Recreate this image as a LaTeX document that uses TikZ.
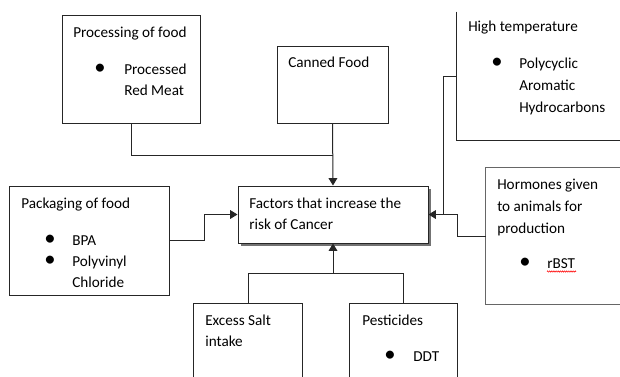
\documentclass[tikz,border=0pt]{standalone}
\usepackage{fontspec}
\setmainfont{Carlito}
\usetikzlibrary{arrows.meta,fit,shadows,decorations.pathmorphing}
\tikzset{
  boxnode/.style={draw=black!85, line width=0.75pt, inner sep=0pt},
  openbox/.style={draw=none, inner sep=0pt},
  txt/.style={anchor=base west, inner sep=0pt, text=black, font=\fontsize{11.4}{14}\selectfont},
  bul/.style={anchor=base, inner sep=0pt, text=black, font=\fontsize{17}{17}\selectfont},
  conn/.style={draw=black!85, line width=0.75pt},
  arr/.style={conn, -{Triangle[length=5.5pt,width=6.5pt]}},
  side/.style={draw=black!85, line width=0.75pt}
}
\begin{document}
\begin{tikzpicture}[x=0.75pt,y=-0.75pt]
\useasboundingbox (0,0) rectangle (620,376);
\fill[white] (0,0) rectangle (620,376);
\begin{scope}
\clip (0,0) rectangle (620,376);
% boxes
\node[boxnode, fit={(62,15) (200,123)}] (proc) {};
\node[boxnode, fit={(277,46) (388,123)}] (can) {};
\node[openbox, fit={(457,12) (640,140)}] (ht) {};
\node[openbox, fit={(486,168) (640,304)}] (horm) {};
\node[boxnode, fill=white, drop shadow={shadow xshift=2.2pt, shadow yshift=-2.2pt, fill=black!55, opacity=1}, fit={(238,186) (428,243)}] (cen) {};
\node[boxnode, fit={(9,186) (169,295)}] (pack) {};
\node[openbox, fit={(194,304) (302,400)}] (salt) {};
\node[openbox, fit={(350,304) (457,400)}] (pest) {};
% visible sides of cut-off boxes
\draw[side] (ht.north west) -- (ht.south west) -- (ht.south east);
\draw[side, draw=black!60, line width=1.1pt] (horm.north east) -- (horm.north west) -- (horm.south west) -- (horm.south east);
\draw[side] (salt.south west) -- (salt.north west) -- (salt.north east) -- (salt.south east);
\draw[side] (pest.south west) -- (pest.north west) -- (pest.north east) -- (pest.south east);
% junctions
\coordinate (j1) at (can.south |- 0,155);
\coordinate (j2) at (204,0);
\coordinate (j3) at (443,0);
\coordinate (j4) at (cen.south |- 0,273);
\coordinate (j5) at (457,0);
% connectors
\draw[conn] (proc.south) |- (j1);
\draw[arr] (can.south) -- (cen.north);
\draw[arr] (pack.east) -- (pack.east -| j2) |- (cen.west);
\draw[arr] (ht.west) -- (ht.west -| j3) |- (cen.east);
\draw[conn] (horm.west) -- (horm.west -| j5) |- (cen.east -| j3);
\draw[conn] (salt.north) |- (j4);
\draw[conn] (pest.north) |- (j4);
\draw[arr] (j4) -- (cen.south);
% texts
\node[txt] (t1) at (73,37) {Processing of food};
\node[bul] (b1) at (100,74) {•};
\node[txt] (t2) at (124,74) {Processed};
\node[txt] (t3) at (124,95) {Red Meat};
\node[txt] (t4) at (288,67) {Canned Food};
\node[txt] (t5) at (468,31) {High temperature};
\node[bul] (b2) at (497,68) {•};
\node[txt] (t6) at (519,68) {Polycyclic};
\node[txt] (t7) at (519,90) {Aromatic};
\node[txt] (t8) at (519,112) {Hydrocarbons};
\node[txt] (t9) at (249,208) {Factors that increase the};
\node[txt] (t10) at (249,229) {risk of Cancer};
\node[txt] (t11) at (21,208) {Packaging of food};
\node[bul] (b3) at (50,245) {•};
\node[txt] (t12) at (72,245) {BPA};
\node[bul] (b4) at (50,266) {•};
\node[txt] (t13) at (72,266) {Polyvinyl};
\node[txt] (t14) at (72,287) {Chloride};
\node[txt] (t15) at (497,189) {Hormones given};
\node[txt] (t16) at (497,211) {to animals for};
\node[txt] (t17) at (497,233) {production};
\node[bul] (b5) at (525,268) {•};
\node[txt] (t18) at (547,268) {rBST};
\draw[red, line width=0.4pt, decorate, decoration={zigzag, amplitude=0.5pt, segment length=1.6pt}] (t18.base west) ++(0,3.5) -- ++(29,0);
\node[txt] (t19) at (205,325) {Excess Salt};
\node[txt] (t20) at (205,346) {intake};
\node[txt] (t21) at (362,325) {Pesticides};
\node[bul] (b6) at (390,361) {•};
\node[txt] (t22) at (413,361) {DDT};
\end{scope}
\end{tikzpicture}
\end{document}
